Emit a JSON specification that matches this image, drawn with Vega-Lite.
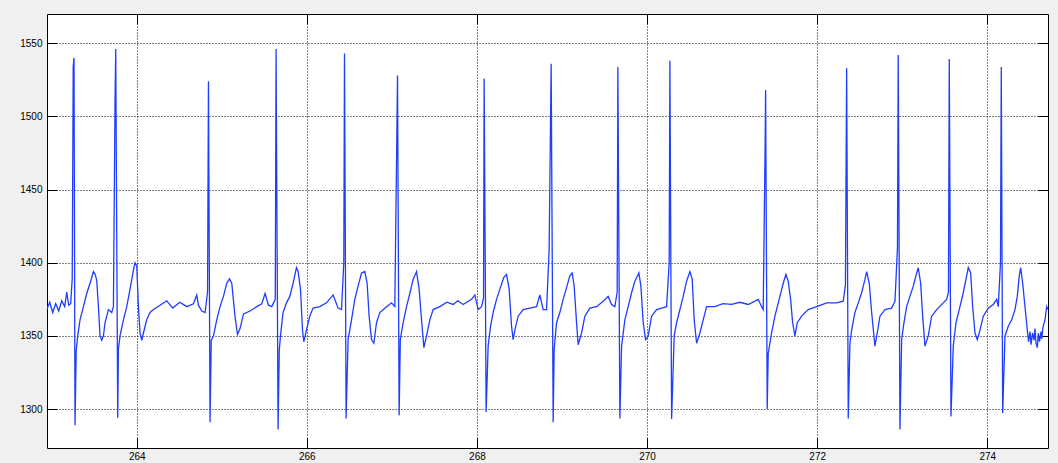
{
  "$schema": "https://vega.github.io/schema/vega-lite/v6.json",
  "width": 1001,
  "height": 434,
  "autosize": {"type": "none"},
  "padding": {"left": 47, "top": 14, "right": 10, "bottom": 15},
  "background": "#f0f0f0",
  "config": {
    "view": {"fill": "white", "stroke": "black", "strokeWidth": 1},
    "axis": {
      "labelFont": "Liberation Sans",
      "labelFontSize": 10,
      "labelColor": "black",
      "tickColor": "black",
      "tickWidth": 1,
      "gridColor": "black",
      "gridDash": [1, 2],
      "gridOpacity": 1,
      "gridWidth": 1,
      "domain": false,
      "title": null
    }
  },
  "data": {"values": [
    {"t": 262.9416, "v": 1368}, {"t": 262.9769, "v": 1373}, {"t": 263.0122, "v": 1366}, {"t": 263.0474, "v": 1372},
    {"t": 263.0827, "v": 1367}, {"t": 263.1180, "v": 1374}, {"t": 263.1533, "v": 1370}, {"t": 263.1768, "v": 1380},
    {"t": 263.2003, "v": 1371}, {"t": 263.2238, "v": 1372}, {"t": 263.2415, "v": 1389}, {"t": 263.2532, "v": 1534},
    {"t": 263.2626, "v": 1540}, {"t": 263.2744, "v": 1289}, {"t": 263.2885, "v": 1340}, {"t": 263.3062, "v": 1350},
    {"t": 263.3332, "v": 1361}, {"t": 263.3732, "v": 1370}, {"t": 263.4120, "v": 1379}, {"t": 263.4508, "v": 1386},
    {"t": 263.4908, "v": 1394}, {"t": 263.5120, "v": 1392}, {"t": 263.5296, "v": 1388}, {"t": 263.5496, "v": 1370},
    {"t": 263.5684, "v": 1350}, {"t": 263.5884, "v": 1347}, {"t": 263.6084, "v": 1350}, {"t": 263.6272, "v": 1359},
    {"t": 263.6672, "v": 1368}, {"t": 263.7060, "v": 1366}, {"t": 263.7260, "v": 1370}, {"t": 263.7448, "v": 1510},
    {"t": 263.7531, "v": 1546}, {"t": 263.7766, "v": 1294}, {"t": 263.7848, "v": 1341}, {"t": 263.8036, "v": 1350},
    {"t": 263.8436, "v": 1361}, {"t": 263.8824, "v": 1370}, {"t": 263.9213, "v": 1382}, {"t": 263.9612, "v": 1395},
    {"t": 263.9801, "v": 1400}, {"t": 264.0000, "v": 1398}, {"t": 264.0200, "v": 1370}, {"t": 264.0388, "v": 1352},
    {"t": 264.0588, "v": 1347}, {"t": 264.0788, "v": 1352}, {"t": 264.1176, "v": 1361}, {"t": 264.1564, "v": 1366},
    {"t": 264.1964, "v": 1368}, {"t": 264.2741, "v": 1371}, {"t": 264.3528, "v": 1374}, {"t": 264.4234, "v": 1369},
    {"t": 264.5057, "v": 1373}, {"t": 264.5880, "v": 1370}, {"t": 264.6668, "v": 1372}, {"t": 264.7056, "v": 1378},
    {"t": 264.7256, "v": 1371}, {"t": 264.7645, "v": 1367}, {"t": 264.8033, "v": 1366}, {"t": 264.8327, "v": 1380},
    {"t": 264.8433, "v": 1524}, {"t": 264.8621, "v": 1291}, {"t": 264.8762, "v": 1347}, {"t": 264.9021, "v": 1350},
    {"t": 264.9409, "v": 1361}, {"t": 264.9797, "v": 1370}, {"t": 265.0197, "v": 1377}, {"t": 265.0585, "v": 1386},
    {"t": 265.0903, "v": 1389}, {"t": 265.1173, "v": 1386}, {"t": 265.1561, "v": 1363}, {"t": 265.1844, "v": 1351},
    {"t": 265.2149, "v": 1355}, {"t": 265.2549, "v": 1365}, {"t": 265.3325, "v": 1367}, {"t": 265.4113, "v": 1370},
    {"t": 265.4701, "v": 1372}, {"t": 265.5089, "v": 1379}, {"t": 265.5489, "v": 1371}, {"t": 265.5877, "v": 1370},
    {"t": 265.6289, "v": 1375}, {"t": 265.6383, "v": 1546}, {"t": 265.6618, "v": 1286}, {"t": 265.6759, "v": 1340},
    {"t": 265.6900, "v": 1350}, {"t": 265.7206, "v": 1366}, {"t": 265.7608, "v": 1372.6}, {"t": 265.7996, "v": 1377},
    {"t": 265.8384, "v": 1386}, {"t": 265.8782, "v": 1396.6}, {"t": 265.8970, "v": 1394}, {"t": 265.9253, "v": 1382},
    {"t": 265.9488, "v": 1354}, {"t": 265.9641, "v": 1346}, {"t": 265.9959, "v": 1354}, {"t": 266.0347, "v": 1363.5},
    {"t": 266.0735, "v": 1369}, {"t": 266.1523, "v": 1370}, {"t": 266.2311, "v": 1372.6}, {"t": 266.3088, "v": 1378},
    {"t": 266.3676, "v": 1369}, {"t": 266.4075, "v": 1368}, {"t": 266.4346, "v": 1400}, {"t": 266.4428, "v": 1543},
    {"t": 266.4616, "v": 1293.6}, {"t": 266.4852, "v": 1347.5}, {"t": 266.5252, "v": 1361}, {"t": 266.5640, "v": 1375},
    {"t": 266.6028, "v": 1384}, {"t": 266.6428, "v": 1393}, {"t": 266.6816, "v": 1394}, {"t": 266.7087, "v": 1386},
    {"t": 266.7322, "v": 1363.5}, {"t": 266.7604, "v": 1347.5}, {"t": 266.7875, "v": 1345}, {"t": 266.8192, "v": 1359},
    {"t": 266.8580, "v": 1366}, {"t": 266.9368, "v": 1370}, {"t": 266.9956, "v": 1372.6}, {"t": 267.0344, "v": 1370},
    {"t": 267.0662, "v": 1528}, {"t": 267.0850, "v": 1295.7}, {"t": 267.0991, "v": 1347.5}, {"t": 267.1320, "v": 1359},
    {"t": 267.1720, "v": 1370}, {"t": 267.2108, "v": 1379}, {"t": 267.2496, "v": 1388.6}, {"t": 267.2896, "v": 1394},
    {"t": 267.3202, "v": 1382}, {"t": 267.3484, "v": 1361}, {"t": 267.3758, "v": 1342}, {"t": 267.4072, "v": 1350},
    {"t": 267.4460, "v": 1361}, {"t": 267.4848, "v": 1368}, {"t": 267.5636, "v": 1370}, {"t": 267.6459, "v": 1373},
    {"t": 267.7200, "v": 1371.5}, {"t": 267.7752, "v": 1374}, {"t": 267.8376, "v": 1371.5}, {"t": 267.9364, "v": 1375},
    {"t": 267.9752, "v": 1378}, {"t": 268.0140, "v": 1368}, {"t": 268.0540, "v": 1370}, {"t": 268.0775, "v": 1376},
    {"t": 268.0846, "v": 1526}, {"t": 268.1081, "v": 1298}, {"t": 268.1316, "v": 1343}, {"t": 268.1598, "v": 1356.6},
    {"t": 268.1904, "v": 1366}, {"t": 268.2304, "v": 1375}, {"t": 268.2693, "v": 1382}, {"t": 268.3163, "v": 1390},
    {"t": 268.3480, "v": 1392}, {"t": 268.3786, "v": 1382}, {"t": 268.4068, "v": 1356.6}, {"t": 268.4256, "v": 1347.5},
    {"t": 268.4456, "v": 1354}, {"t": 268.4844, "v": 1363.5}, {"t": 268.5432, "v": 1368}, {"t": 268.6220, "v": 1369},
    {"t": 268.7008, "v": 1370}, {"t": 268.7396, "v": 1378}, {"t": 268.7784, "v": 1368}, {"t": 268.8184, "v": 1368},
    {"t": 268.8490, "v": 1409}, {"t": 268.8725, "v": 1536}, {"t": 268.8960, "v": 1291}, {"t": 268.9077, "v": 1340.6},
    {"t": 268.9360, "v": 1359}, {"t": 268.9748, "v": 1366}, {"t": 269.0136, "v": 1375}, {"t": 269.0536, "v": 1383},
    {"t": 269.0924, "v": 1391}, {"t": 269.1194, "v": 1393}, {"t": 269.1430, "v": 1384}, {"t": 269.1712, "v": 1359},
    {"t": 269.1900, "v": 1344}, {"t": 269.2300, "v": 1352}, {"t": 269.2688, "v": 1363.5}, {"t": 269.3276, "v": 1369},
    {"t": 269.4064, "v": 1370}, {"t": 269.4840, "v": 1373.7}, {"t": 269.5428, "v": 1377}, {"t": 269.5828, "v": 1371.5},
    {"t": 269.6216, "v": 1370}, {"t": 269.6487, "v": 1380}, {"t": 269.6570, "v": 1533.8}, {"t": 269.6805, "v": 1293.6},
    {"t": 269.7005, "v": 1343}, {"t": 269.7393, "v": 1361}, {"t": 269.7781, "v": 1370}, {"t": 269.8181, "v": 1379.5},
    {"t": 269.8569, "v": 1387.4}, {"t": 269.9039, "v": 1393}, {"t": 269.9275, "v": 1384}, {"t": 269.9545, "v": 1359},
    {"t": 269.9827, "v": 1347.5}, {"t": 270.0133, "v": 1350}, {"t": 270.0533, "v": 1363.5}, {"t": 270.1121, "v": 1368},
    {"t": 270.1709, "v": 1369}, {"t": 270.2297, "v": 1370}, {"t": 270.2603, "v": 1400}, {"t": 270.2685, "v": 1538},
    {"t": 270.2885, "v": 1293.2}, {"t": 270.3191, "v": 1350}, {"t": 270.3473, "v": 1359}, {"t": 270.3861, "v": 1368},
    {"t": 270.4249, "v": 1377}, {"t": 270.4649, "v": 1387.4}, {"t": 270.5037, "v": 1394}, {"t": 270.5308, "v": 1389},
    {"t": 270.5543, "v": 1361}, {"t": 270.5825, "v": 1345}, {"t": 270.6213, "v": 1352}, {"t": 270.6601, "v": 1361},
    {"t": 270.7001, "v": 1370}, {"t": 270.7977, "v": 1370}, {"t": 270.8918, "v": 1372}, {"t": 270.9941, "v": 1371.5},
    {"t": 271.0917, "v": 1373}, {"t": 271.1893, "v": 1371.5}, {"t": 271.3069, "v": 1375}, {"t": 271.3469, "v": 1370},
    {"t": 271.3657, "v": 1368}, {"t": 271.3881, "v": 1480}, {"t": 271.3940, "v": 1518}, {"t": 271.4128, "v": 1300},
    {"t": 271.4245, "v": 1338}, {"t": 271.4645, "v": 1352}, {"t": 271.5033, "v": 1363.5}, {"t": 271.5621, "v": 1377},
    {"t": 271.6010, "v": 1386}, {"t": 271.6327, "v": 1392}, {"t": 271.6598, "v": 1387.4}, {"t": 271.6880, "v": 1375},
    {"t": 271.7115, "v": 1359}, {"t": 271.7386, "v": 1350}, {"t": 271.7656, "v": 1359}, {"t": 271.8174, "v": 1363.5},
    {"t": 271.8950, "v": 1368}, {"t": 271.9938, "v": 1370}, {"t": 272.1114, "v": 1372.6}, {"t": 272.2290, "v": 1372.6},
    {"t": 272.3066, "v": 1373.7}, {"t": 272.3325, "v": 1385}, {"t": 272.3466, "v": 1533}, {"t": 272.3654, "v": 1293.6},
    {"t": 272.3854, "v": 1345}, {"t": 272.4054, "v": 1354}, {"t": 272.4442, "v": 1366}, {"t": 272.4830, "v": 1372.6},
    {"t": 272.5230, "v": 1379.5}, {"t": 272.5618, "v": 1388.6}, {"t": 272.5818, "v": 1394}, {"t": 272.6124, "v": 1386},
    {"t": 272.6406, "v": 1366}, {"t": 272.6794, "v": 1343}, {"t": 272.7064, "v": 1352}, {"t": 272.7382, "v": 1363.5},
    {"t": 272.7970, "v": 1368}, {"t": 272.8758, "v": 1369}, {"t": 272.9146, "v": 1373.7}, {"t": 272.9440, "v": 1410},
    {"t": 272.9534, "v": 1542}, {"t": 272.9734, "v": 1286}, {"t": 272.9934, "v": 1347.5}, {"t": 273.0204, "v": 1359},
    {"t": 273.0522, "v": 1370}, {"t": 273.0910, "v": 1377}, {"t": 273.1298, "v": 1384}, {"t": 273.1698, "v": 1393},
    {"t": 273.1886, "v": 1396.6}, {"t": 273.2168, "v": 1386}, {"t": 273.2403, "v": 1363.5}, {"t": 273.2674, "v": 1343},
    {"t": 273.3062, "v": 1350}, {"t": 273.3462, "v": 1363.5}, {"t": 273.4050, "v": 1368}, {"t": 273.4826, "v": 1372.6},
    {"t": 273.5226, "v": 1375}, {"t": 273.5438, "v": 1380}, {"t": 273.5532, "v": 1539.3}, {"t": 273.5732, "v": 1295},
    {"t": 273.6002, "v": 1343}, {"t": 273.6320, "v": 1359}, {"t": 273.6790, "v": 1370}, {"t": 273.7178, "v": 1379.5},
    {"t": 273.7496, "v": 1388.6}, {"t": 273.7766, "v": 1396.6}, {"t": 273.8048, "v": 1393}, {"t": 273.8283, "v": 1370},
    {"t": 273.8554, "v": 1352}, {"t": 273.8824, "v": 1347.5}, {"t": 273.9142, "v": 1354}, {"t": 273.9530, "v": 1363.5},
    {"t": 274.0118, "v": 1369}, {"t": 274.0706, "v": 1371.5}, {"t": 274.1106, "v": 1375}, {"t": 274.1294, "v": 1370},
    {"t": 274.1553, "v": 1400}, {"t": 274.1647, "v": 1533.8}, {"t": 274.1811, "v": 1297.3}, {"t": 274.2082, "v": 1350},
    {"t": 274.2470, "v": 1356.6}, {"t": 274.2870, "v": 1361}, {"t": 274.3258, "v": 1368}, {"t": 274.3528, "v": 1377},
    {"t": 274.3764, "v": 1391}, {"t": 274.3928, "v": 1396.6}, {"t": 274.4164, "v": 1386}, {"t": 274.4434, "v": 1370},
    {"t": 274.4709, "v": 1354}, {"t": 274.4850, "v": 1346}, {"t": 274.5026, "v": 1353}, {"t": 274.5144, "v": 1344},
    {"t": 274.5320, "v": 1352}, {"t": 274.5497, "v": 1347}, {"t": 274.5614, "v": 1355}, {"t": 274.5732, "v": 1345},
    {"t": 274.5885, "v": 1342}, {"t": 274.6002, "v": 1352}, {"t": 274.6143, "v": 1346}, {"t": 274.6320, "v": 1353},
    {"t": 274.6402, "v": 1348}, {"t": 274.6555, "v": 1356}, {"t": 274.6786, "v": 1361}, {"t": 274.6986, "v": 1370},
    {"t": 274.7140, "v": 1368}
  ]},
  "resolve": {"axis": {"x": "independent", "y": "independent"}},
  "layer": [
    {
      "mark": {"type": "line", "color": "#1f3dff", "strokeWidth": 1.3, "clip": true},
      "encoding": {
        "x": {"field": "t", "type": "quantitative",
              "scale": {"domain": [262.945, 274.714], "nice": false, "zero": false},
              "axis": {"orient": "bottom", "values": [264, 266, 268, 270, 272, 274], "grid": true,
                       "ticks": true, "tickSize": -10, "labelPadding": 13, "format": "d"}},
        "y": {"field": "v", "type": "quantitative",
              "scale": {"domain": [1273.4, 1570], "nice": false, "zero": false},
              "axis": {"orient": "left", "values": [1300, 1350, 1400, 1450, 1500, 1550], "grid": true,
                       "ticks": true, "tickSize": -10, "labelPadding": 15, "format": "d"}}
      }
    },
    {
      "mark": {"type": "line", "strokeOpacity": 0},
      "encoding": {
        "x": {"field": "t", "type": "quantitative",
              "axis": {"orient": "top", "values": [264, 266, 268, 270, 272, 274], "grid": false,
                       "labels": false, "ticks": true, "tickSize": -10}},
        "y": {"field": "v", "type": "quantitative",
              "axis": {"orient": "right", "values": [1300, 1350, 1400, 1450, 1500, 1550], "grid": false,
                       "labels": false, "ticks": true, "tickSize": -10}}
      }
    }
  ]
}
